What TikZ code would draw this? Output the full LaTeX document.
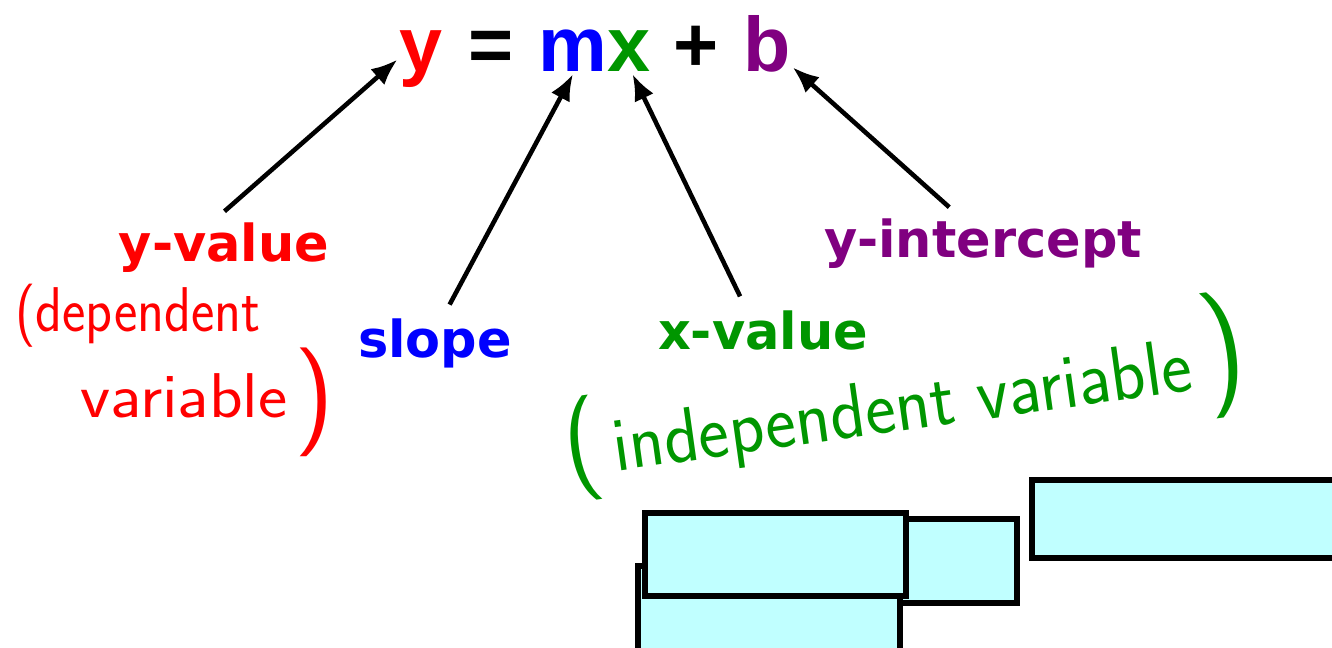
\documentclass[tikz,border=0pt]{standalone}
\usepackage{fontspec}
\setmainfont{Liberation Sans}
\newfontfamily\tagfont{DejaVu Sans}
\usetikzlibrary{arrows.meta}
\definecolor{eqred}{RGB}{255,0,0}
\definecolor{eqblue}{RGB}{0,0,255}
\definecolor{eqgreen}{RGB}{0,150,0}
\definecolor{eqpurple}{RGB}{128,0,128}
\definecolor{boxcyan}{RGB}{192,255,255}
\tikzset{
  eq/.style={font=\fontsize{44}{44}\selectfont\bfseries, anchor=base, inner sep=1pt},
  tag/.style={font=\tagfont\fontsize{29}{29}\selectfont\bfseries, anchor=base, inner sep=2pt},
  hand/.style={font=\sffamily\fontsize{36}{36}\selectfont, anchor=base west, inner sep=0pt},
  arr/.style={-{Latex[length=15pt,width=12pt]}, line width=2.6pt, shorten <=7pt},
  cell/.style={draw, line width=3pt, fill=boxcyan},
}
\begin{document}
\begin{tikzpicture}[x=0.02cm, y=-0.02cm]
\useasboundingbox (0,0) rectangle (1332,648);
\clip (0,0) rectangle (1332,648);
% the equation
\node[eq, text=eqred] (eqy) at (421,72) {y};
\node[eq] (eqeq) at (491,72) {=};
\node[eq, text=eqblue] (eqm) at (573,72) {m};
\node[eq, text=eqgreen] (eqx) at (629,72) {x};
\node[eq] (eqplus) at (696,72) {+};
\node[eq, text=eqpurple] (eqb) at (767,72) {b};
% labels
\node[tag, text=eqred] (yval) at (224,262) {y-value};
\node[tag, text=eqblue] (slope) at (435,358) {slope};
\node[tag, text=eqgreen] (xval) at (763,350) {x-value};
\node[tag, text=eqpurple] (yint) at (983,258) {y-intercept};
\draw[arr] ([xshift=-5pt]yval.north) -- (eqy.west);
\draw[arr] ([xshift=5pt]slope.north) -- (eqm.south);
\draw[arr] ([xshift=-10pt]xval.north) -- ([xshift=2pt]eqx.south);
\draw[arr] ([xshift=-14pt]yint.north) -- (eqb);
% handwritten notes
\node[hand, text=eqred, xscale=0.88] (depa) at (15,332) {(dependent};
\node[hand, text=eqred, xscale=1.1] (depb) at (80,418) {variable};
\node[hand, text=eqred, font=\sffamily\fontsize{62}{62}\selectfont] (depc) at (294,430) {)};
\node[hand, text=eqgreen, rotate=8, xscale=0.94, font=\sffamily\fontsize{44}{44}\selectfont]
  (indep) at (568,478) {{\fontsize{60}{60}\selectfont(}\,independent variable\,{\fontsize{72}{72}\selectfont)}};
% boxes
\draw[cell] (880,519) rectangle (1017,603);
\draw[cell] (638,566) rectangle (900,680);
\draw[cell, line width=3.3pt] (645,513) rectangle (906,596);
\draw[cell] (1032,480) rectangle (1360,558);
\end{tikzpicture}
\end{document}
